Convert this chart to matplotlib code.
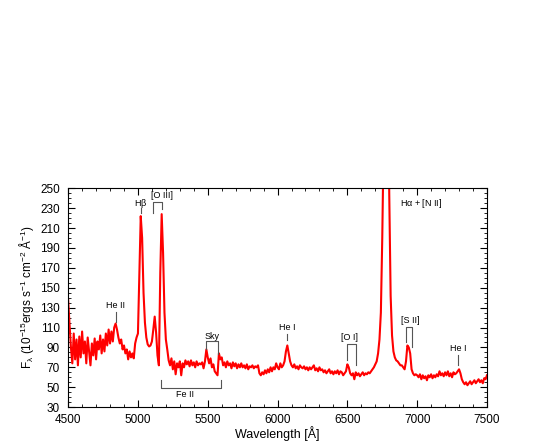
import numpy as np
import matplotlib
matplotlib.use("Agg")
from matplotlib import pyplot as plt
from matplotlib.ticker import MultipleLocator

plt.rcParams['font.family'] = ['Liberation Sans', 'DejaVu Sans']
plt.rcParams['mathtext.default'] = 'regular'

# spectrum, every 10 A from 4500 to 7500
wave_start = 4500
wave_step = 10
flux = [
    138, 113, 90, 74, 104, 78, 98, 72, 101, 80,        # 4500
    106, 84, 96, 74, 100, 86, 72, 94, 82, 99,          # 4600
    78, 96, 88, 102, 84, 98, 86, 104, 92, 108,         # 4700
    94, 106, 96, 110, 114, 108, 100, 94, 98, 88,       # 4800
    92, 84, 88, 78, 86, 80, 84, 79, 94, 100,           # 4900
    104, 165, 222, 200, 145, 115, 100, 93, 91, 92,     # 5000
    96, 108, 121, 105, 82, 72, 165, 224, 185, 125,     # 5100
    98, 88, 77, 72, 79, 68, 76, 63, 74, 70,            # 5200
    76, 62, 74, 70, 77, 73, 76, 71, 77, 72,            # 5300
    75, 70, 76, 72, 74, 73, 75, 69, 76, 88,            # 5400
    80, 74, 79, 70, 73, 66, 64, 62, 84, 78,            # 5500
    80, 72, 75, 70, 76, 72, 74, 69, 75, 71,            # 5600
    74, 69, 73, 70, 74, 70, 72, 69, 73, 68,            # 5700
    71, 70, 72, 69, 71, 70, 72, 64, 62, 65,            # 5800
    63, 67, 64, 68, 65, 70, 66, 70, 68, 74,            # 5900
    70, 68, 74, 70, 72, 76, 86, 92, 84, 76,            # 6000
    72, 70, 73, 69, 71, 68, 72, 70, 69, 71,            # 6100
    68, 70, 67, 70, 68, 70, 72, 67, 69, 66,            # 6200
    70, 67, 68, 65, 67, 64, 66, 68, 64, 66,            # 6300
    63, 66, 64, 67, 63, 66, 65, 62, 64, 66,            # 6400
    73, 70, 64, 62, 64, 58, 65, 62, 64, 61,            # 6500
    63, 65, 62, 64, 63, 65, 64, 66, 68, 70,            # 6600
    73, 76, 84, 98, 125, 200, 300, 400, 450, 400,      # 6700
    245, 142, 102, 86, 80, 77, 76, 74, 72, 72,         # 6800
    70, 68, 76, 92, 90, 84, 68, 64, 62, 63,            # 6900
    62, 60, 63, 58, 62, 59, 61, 57, 62, 60,            # 7000
    63, 59, 62, 60, 63, 61, 66, 62, 64, 61,            # 7100
    65, 62, 66, 61, 64, 60, 65, 63, 64, 66,            # 7200
    68, 64, 58, 55, 53, 55, 52, 54, 56, 53,            # 7300
    55, 57, 54, 56, 58, 55, 57, 54, 59, 58,            # 7400
    62,                                                # 7500
]
wave = wave_start + wave_step * np.arange(len(flux))
yticks = list(range(30, 251, 20))

gray = '#555555'
lab_size = 6.5

fig = plt.figure(figsize=(5.54, 4.43), dpi=100)
ax = fig.add_axes([0.123, 0.081, 0.756, 0.494])

ax.plot(wave, flux, color='red', lw=1.5, solid_joinstyle='round')

ax.set_xlim(4500, 7500)
ax.set_ylim(30, 250)
ax.xaxis.set_major_locator(MultipleLocator(500))
ax.xaxis.set_minor_locator(MultipleLocator(100))
ax.set_yticks(yticks)
ax.yaxis.set_minor_locator(MultipleLocator(5))
ax.tick_params(which='both', direction='in', top=True, right=True, labelsize=8.5)
ax.tick_params(which='major', length=5, width=0.8)
ax.tick_params(which='minor', length=2.5, width=0.6)
ax.tick_params(axis='x', pad=5)
ax.tick_params(axis='y', pad=6)
for s in ax.spines.values():
    s.set_linewidth(0.8)

ax.set_xlabel('Wavelength [Å]', fontsize=9, labelpad=0)
ax.set_ylabel(r'F$_\lambda$ (10$^{-15}$ergs s$^{-1}$ cm$^{-2}$ Å$^{-1}$)',
              fontsize=8.5, labelpad=3)


def tick_label(x, y0, y1, text, ty):
    ax.plot([x, x], [y0, y1], color=gray, lw=0.8)
    ax.text(x, ty, text, fontsize=lab_size, ha='center', va='center')


def bracket(x1, x2, ytop, y1, y2, text, tx, ty):
    ax.plot([x1, x1, x2, x2], [y1, ytop, ytop, y2], color=gray, lw=0.8)
    ax.text(tx, ty, text, fontsize=lab_size, ha='center', va='center')


# line identifications
tick_label(4840, 116, 126, 'He II', 132)
tick_label(5022, 225, 230, r'H$\beta$', 235)
bracket(5111, 5173, 236, 225, 229, '[O III]', 5173, 243)
bracket(5484, 5574, 96, 88, 83, 'Sky', 5534, 101)
bracket(5168, 5593, 49.5, 57, 57, 'Fe II', 5338, 43)
tick_label(6068, 97, 104, 'He I', 110.5)
bracket(6500, 6560, 93.5, 77, 72, '[O I]', 6512, 100)
bracket(6923, 6963, 110.5, 95, 90, '[S II]', 6954, 117)
tick_label(7296, 72, 82, 'He I', 89)
ax.text(6875, 235, r'H$\alpha$ + [N II]', fontsize=lab_size, ha='left', va='center')

fig.savefig('out.png', dpi=100)
